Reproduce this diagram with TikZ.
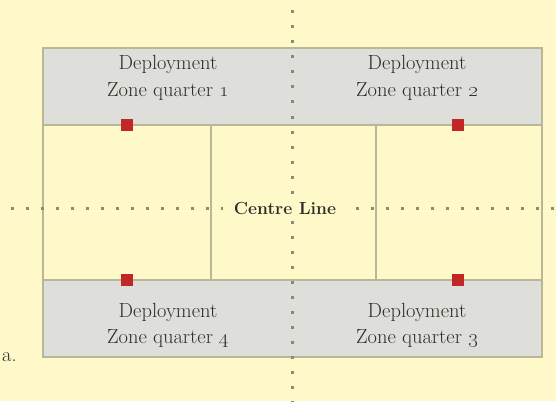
\documentclass[tikz,border=0pt]{standalone}
\usepackage{xcolor}
\definecolor{paper}{HTML}{FFF9C9}
\definecolor{bandc}{HTML}{DEDEDA}
\definecolor{framec}{HTML}{B9B796}
\definecolor{dotc}{HTML}{8C8A70}
\definecolor{markc}{HTML}{C02828}
\definecolor{inkc}{HTML}{302E28}
\begin{document}
\begin{tikzpicture}[x=1pt,y=-1pt,
  frame/.style={draw=framec,line width=1.4pt},
  dotline/.style={draw=dotc,line width=3pt,dash pattern=on 3pt off 12pt},
  marker/.style={fill=markc,minimum size=12pt,inner sep=0pt,draw=none},
  zonetext/.style={text=inkc,font=\fontsize{20.5}{27}\selectfont,inner sep=0pt,anchor=base}]
% paper
\fill[paper] (0,0) rectangle (556,401);
\useasboundingbox (0,0) rectangle (556,401);

% deployment zone bands
\fill[bandc] (43,48) rectangle (542,125);
\fill[bandc] (43,280) rectangle (542,357);

% table outline and divisions
\draw[frame] (43,48) rectangle (542,357);
\draw[frame] (43,125) -- (542,125);
\draw[frame] (43,280) -- (542,280);
\draw[frame] (211,125) -- (211,280);
\draw[frame] (376,125) -- (376,280);

% dotted centre lines
\coordinate (vtop) at (292,10.5);
\coordinate (vbot) at (292,401);
\coordinate (hleft) at (10.5,208);
\coordinate (hright) at (556,208);
\draw[dotline] (vtop) -- (vbot);
\draw[dotline] (hleft) -- (hright);

\node[fill=paper,inner xsep=11pt,inner ysep=2pt,text=inkc,
      font=\bfseries\fontsize{17.5}{19}\selectfont] (centre) at (285,208) {Centre Line};

% objective markers
\node[marker] (m1) at (127,125) {};
\node[marker] (m2) at (458,125) {};
\node[marker] (m4) at (127,280) {};
\node[marker] (m3) at (458,280) {};

% zone labels
\node[zonetext] (q1a) at (168,70) {Deployment};
\node[zonetext] (q1b) at (168,97) {Zone quarter \oldstylenums{1}};
\node[zonetext] (q2a) at (417,70) {Deployment};
\node[zonetext] (q2b) at (417,97) {Zone quarter \oldstylenums{2}};
\node[zonetext] (q4a) at (168,317) {Deployment};
\node[zonetext] (q4b) at (168,343) {Zone quarter \oldstylenums{4}};
\node[zonetext] (q3a) at (417,317) {Deployment};
\node[zonetext] (q3b) at (417,343) {Zone quarter \oldstylenums{3}};

\node[zonetext,anchor=base west] (note) at (2,361) {a.};
\end{tikzpicture}
\end{document}
